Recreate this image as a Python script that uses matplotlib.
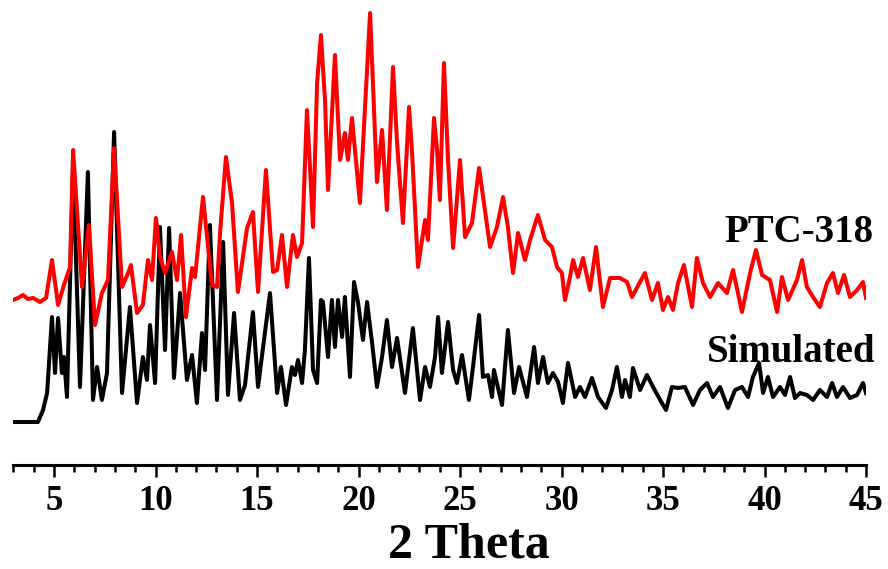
import matplotlib
matplotlib.use("Agg")
import matplotlib.pyplot as plt
from matplotlib.ticker import MultipleLocator

# simulated pattern (2 theta, relative intensity)
sim_2theta = [2.98, 4.21, 4.46, 4.66, 4.90, 5.05, 5.20, 5.39, 5.49, 5.64,
              5.94, 6.28, 6.67, 6.92, 7.12, 7.36, 7.61, 7.96, 8.35, 8.74,
              9.09, 9.38, 9.58, 9.73, 9.98, 10.22, 10.47, 10.67, 10.91, 11.21,
              11.55, 11.80, 12.04, 12.29, 12.44, 12.68, 13.03, 13.33, 13.57, 13.87,
              14.16, 14.41, 14.80, 15.05, 15.64, 15.99, 16.18, 16.43, 16.72, 16.87,
              17.02, 17.22, 17.36, 17.56, 17.76, 17.96, 18.15, 18.25, 18.50, 18.69,
              18.84, 18.99, 19.19, 19.33, 19.58, 19.78, 19.98, 20.22, 20.42, 20.67,
              20.91, 21.16, 21.40, 21.65, 21.90, 22.29, 22.68, 23.03, 23.28, 23.52,
              23.77, 23.92, 24.11, 24.41, 24.66, 24.85, 25.10, 25.44, 25.64, 25.94,
              26.13, 26.38, 26.58, 26.67, 27.07, 27.36, 27.66, 27.91, 28.30, 28.65,
              28.84, 29.09, 29.33, 29.58, 29.83, 30.07, 30.32, 30.67, 30.91, 31.16,
              31.50, 31.80, 32.19, 32.49, 32.73, 32.98, 33.13, 33.37, 33.52, 33.87,
              34.21, 34.51, 34.86, 35.15, 35.44, 35.74, 36.08, 36.48, 36.82, 37.17,
              37.46, 37.81, 38.20, 38.55, 38.89, 39.19, 39.43, 39.73, 39.93, 40.17,
              40.42, 40.76, 41.01, 41.26, 41.50, 41.75, 42.09, 42.39, 42.73, 43.08,
              43.33, 43.57, 43.87, 44.21, 44.56, 44.85, 45.00]
sim_int = [0, 0, 12, 29, 105, 49, 104, 49, 65, 25,
           257, 35, 250, 22, 55, 22, 49, 290, 29, 115,
           19, 65, 42, 97, 39, 195, 72, 194, 44, 129,
           42, 67, 19, 89, 52, 197, 22, 180, 27, 109,
           22, 37, 110, 35, 129, 29, 55, 17, 55, 47,
           62, 39, 72, 164, 52, 39, 122, 120, 65, 122,
           75, 122, 85, 125, 45, 140, 119, 82, 120, 79,
           35, 65, 102, 55, 84, 29, 94, 22, 55, 35,
           65, 105, 49, 100, 52, 39, 67, 22, 55, 107,
           45, 47, 25, 52, 17, 92, 29, 55, 25, 75,
           39, 65, 39, 49, 40, 19, 59, 25, 35, 25,
           44, 25, 14, 32, 55, 25, 42, 25, 54, 32,
           47, 35, 22, 12, 35, 34, 35, 17, 32, 39,
           25, 35, 14, 32, 35, 25, 45, 59, 29, 45,
           25, 35, 27, 45, 24, 29, 27, 22, 32, 25,
           39, 25, 35, 24, 27, 39, 29]

# measured PTC-318 pattern
ptc_2theta = [2.98, 3.23, 3.47, 3.72, 3.97, 4.31, 4.61, 4.90, 5.20, 5.49,
              5.79, 5.94, 6.38, 6.72, 7.02, 7.36, 7.66, 7.96, 8.35, 8.65,
              8.79, 9.09, 9.38, 9.63, 9.83, 10.02, 10.22, 10.47, 10.81, 11.06,
              11.26, 11.50, 11.80, 11.95, 12.34, 12.78, 13.03, 13.18, 13.47, 13.77,
              14.06, 14.51, 14.80, 15.05, 15.44, 15.79, 15.99, 16.23, 16.48, 16.77,
              16.97, 17.22, 17.46, 17.61, 17.76, 17.96, 18.15, 18.35, 18.50, 18.84,
              19.09, 19.33, 19.48, 19.68, 20.07, 20.57, 20.91, 21.16, 21.40, 21.70,
              21.90, 22.19, 22.49, 22.64, 22.93, 23.28, 23.42, 23.72, 23.87, 24.01,
              24.21, 24.41, 24.66, 25.00, 25.25, 25.59, 25.94, 26.48, 26.82, 27.12,
              27.36, 27.61, 27.86, 28.20, 28.45, 28.84, 29.19, 29.53, 29.78, 30.02,
              30.17, 30.42, 30.57, 30.81, 31.06, 31.40, 31.70, 32.04, 32.39, 32.88,
              33.23, 33.47, 34.11, 34.46, 34.75, 35.00, 35.25, 35.49, 35.74, 36.03,
              36.43, 36.67, 36.97, 37.32, 37.71, 38.15, 38.45, 38.89, 39.29, 39.58,
              39.88, 40.27, 40.62, 40.86, 41.16, 41.60, 41.85, 42.09, 42.39, 42.73,
              43.08, 43.37, 43.62, 43.92, 44.21, 44.56, 44.85, 45.00]
ptc_int = [30, 32, 35, 31, 32, 28, 32, 70, 25, 45,
           63, 180, 43, 105, 5, 37, 50, 182, 43, 57,
           65, 17, 25, 70, 50, 112, 73, 57, 78, 50,
           95, 13, 62, 53, 133, 45, 43, 97, 173, 127,
           38, 102, 118, 38, 160, 58, 60, 95, 43, 95,
           73, 87, 220, 163, 103, 247, 295, 230, 140, 275,
           170, 197, 170, 212, 127, 317, 148, 200, 120, 263,
           187, 107, 223, 177, 63, 110, 90, 212, 180, 130,
           267, 170, 82, 170, 93, 107, 162, 83, 103, 133,
           103, 57, 97, 70, 90, 115, 90, 83, 63, 57,
           30, 53, 70, 53, 72, 40, 83, 23, 52, 52,
           48, 33, 57, 30, 47, 20, 33, 20, 47, 65,
           23, 72, 47, 33, 47, 37, 60, 18, 57, 80,
           55, 50, 18, 53, 30, 50, 70, 43, 33, 23,
           47, 57, 37, 55, 33, 40, 48, 32]

# vertical offsets used to stack the two patterns
sim_offset = 43
ptc_offset = 135

plt.rcParams['font.family'] = ['Liberation Serif', 'DejaVu Serif']
plt.rcParams['font.weight'] = 'bold'

fig = plt.figure(figsize=(8.88, 5.69), dpi=100)
ax = fig.add_axes([13.4 / 888, 104 / 569, (866 - 13.4) / 888, 465 / 569])

ax.plot(sim_2theta, [v + sim_offset for v in sim_int], color='black', lw=2.9,
        solid_joinstyle='round')
ax.plot(ptc_2theta, [v + ptc_offset for v in ptc_int], color='red', lw=2.9,
        solid_joinstyle='round')

ax.set_xlim(3, 45)
ax.set_ylim(0, 465)
for s in ['top', 'left', 'right']:
    ax.spines[s].set_visible(False)
ax.spines['bottom'].set_linewidth(2.2)
ax.set_yticks([])
ax.xaxis.set_major_locator(MultipleLocator(5))
ax.xaxis.set_minor_locator(MultipleLocator(1))
ax.set_xticks(range(5, 46, 5))
ax.tick_params(axis='x', which='major', direction='out', length=8.5, width=1.8,
               labelsize=25, pad=6)
ax.tick_params(axis='x', which='minor', direction='out', length=5, width=1.8)
for lab in ax.get_xticklabels():
    lab.set_fontweight('bold')

fig.text(469 / 888, 12 / 569, "2 Theta", ha='center', va='baseline',
         fontsize=36, fontweight='bold')
fig.text(873 / 888, (569 - 242) / 569, "PTC-318", ha='right', va='baseline',
         fontsize=28, fontweight='bold')
fig.text(875 / 888, (569 - 362) / 569, "Simulated", ha='right', va='baseline',
         fontsize=28, fontweight='bold')

fig.savefig("out.png", dpi=100)
